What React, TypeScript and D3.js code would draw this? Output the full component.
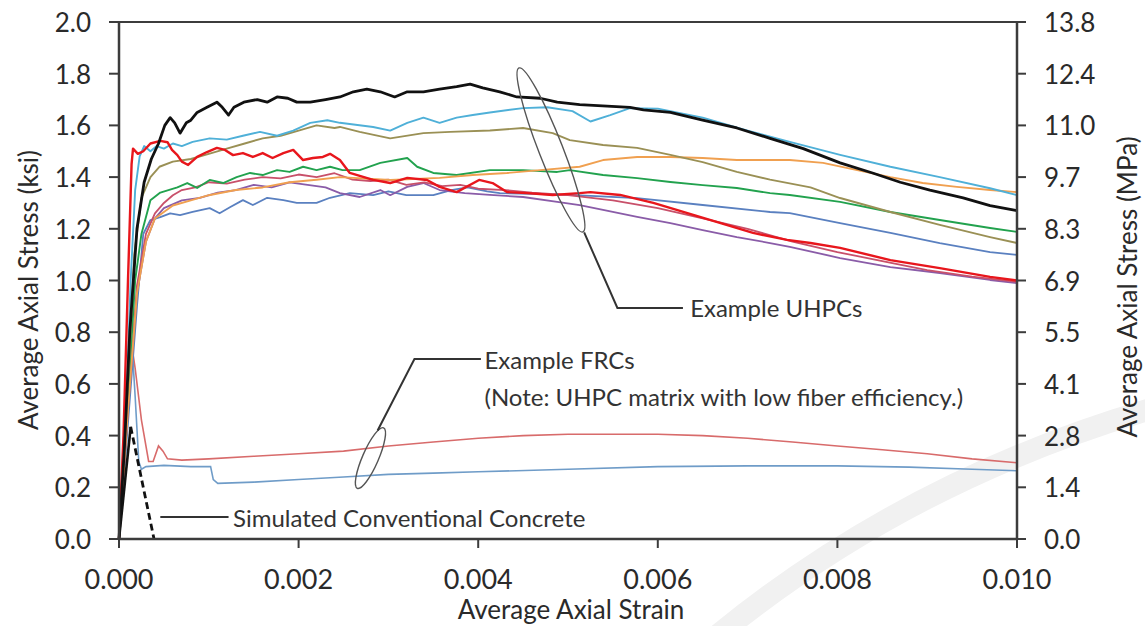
import React from "react";
import * as d3 from "d3";

// Axial stress–strain responses; strain in in/in, stress in ksi.
type Pt = [number, number];

const blackUHPC: Pt[] = [
  [0, 0], [0.00006, 0.35], [0.00012, 0.8], [0.0002, 1.2], [0.00028, 1.38], [0.00036, 1.47],
  [0.00044, 1.53], [0.00051, 1.6], [0.00057, 1.63], [0.00062, 1.61], [0.00068, 1.57],
  [0.00075, 1.61], [0.0008, 1.62], [0.00087, 1.65], [0.00098, 1.67], [0.00109, 1.69],
  [0.00115, 1.67], [0.00122, 1.64], [0.00128, 1.67], [0.00139, 1.69], [0.00154, 1.7],
  [0.00165, 1.69], [0.00176, 1.71], [0.00188, 1.705], [0.00198, 1.69], [0.00213, 1.69],
  [0.0023, 1.7], [0.00246, 1.71], [0.00261, 1.73], [0.00276, 1.74], [0.00291, 1.73],
  [0.00307, 1.71], [0.00321, 1.73], [0.00339, 1.73], [0.00357, 1.74], [0.00376, 1.75],
  [0.00391, 1.76], [0.00405, 1.745], [0.00424, 1.73], [0.00443, 1.71], [0.00469, 1.705],
  [0.00488, 1.69], [0.00513, 1.68], [0.00569, 1.67], [0.00584, 1.66], [0.00614, 1.65],
  [0.0065, 1.62], [0.00688, 1.59], [0.00725, 1.55], [0.00762, 1.51], [0.00803, 1.455],
  [0.0084, 1.415], [0.0087, 1.38], [0.00903, 1.35], [0.0094, 1.32], [0.0097, 1.29], [0.01, 1.27],
];

const cyanUHPC: Pt[] = [
  [0, 0], [0.00008, 0.5], [0.00013, 1.0], [0.00018, 1.35], [0.00023, 1.48], [0.00028, 1.52],
  [0.00035, 1.5], [0.00042, 1.52], [0.0005, 1.51], [0.0006, 1.53], [0.0007, 1.52],
  [0.00082, 1.536], [0.00101, 1.55], [0.0012, 1.545], [0.00138, 1.56], [0.00157, 1.575],
  [0.00176, 1.56], [0.00194, 1.58], [0.00213, 1.61], [0.00232, 1.62], [0.00246, 1.61],
  [0.00283, 1.594], [0.00302, 1.58], [0.00321, 1.61], [0.00339, 1.63], [0.00357, 1.61],
  [0.00376, 1.63], [0.00394, 1.64], [0.00413, 1.65], [0.0045, 1.667], [0.00477, 1.67],
  [0.00505, 1.655], [0.00525, 1.615], [0.00547, 1.64], [0.00569, 1.667], [0.006, 1.665],
  [0.0065, 1.63], [0.007, 1.58], [0.00747, 1.536], [0.00803, 1.486], [0.00859, 1.44],
  [0.00914, 1.4], [0.0097, 1.357], [0.01, 1.33],
];

const oliveUHPC: Pt[] = [
  [0, 0], [0.0001, 0.6], [0.00017, 1.1], [0.00025, 1.32], [0.00035, 1.4], [0.00045, 1.44],
  [0.0006, 1.46], [0.0008, 1.47], [0.001, 1.49], [0.0012, 1.51], [0.0014, 1.53],
  [0.0016, 1.55], [0.0018, 1.56], [0.002, 1.58], [0.0022, 1.6], [0.0024, 1.59],
  [0.00246, 1.594], [0.00268, 1.575], [0.00302, 1.55], [0.00339, 1.57], [0.00369, 1.575],
  [0.00413, 1.58], [0.0045, 1.59], [0.00483, 1.57], [0.00502, 1.543], [0.00539, 1.524],
  [0.00577, 1.513], [0.00614, 1.486], [0.0065, 1.458], [0.00688, 1.42], [0.00725, 1.39],
  [0.0077, 1.36], [0.00803, 1.319], [0.00859, 1.265], [0.00914, 1.215], [0.0097, 1.168],
  [0.01, 1.145],
];

const orangeUHPC: Pt[] = [
  [0, 0], [0.0001, 0.5], [0.0002, 0.95], [0.0003, 1.15], [0.0004, 1.24], [0.0006, 1.29],
  [0.0008, 1.31], [0.001, 1.33], [0.0013, 1.35], [0.0016, 1.36], [0.0019, 1.38],
  [0.0022, 1.39], [0.00246, 1.4], [0.00302, 1.389], [0.00357, 1.397], [0.00394, 1.408],
  [0.00432, 1.416], [0.00469, 1.427], [0.00513, 1.44], [0.00539, 1.466], [0.00577, 1.478],
  [0.00614, 1.478], [0.0065, 1.474], [0.00688, 1.466], [0.00747, 1.466], [0.00784, 1.455],
  [0.00822, 1.427], [0.00859, 1.4], [0.00895, 1.377], [0.00933, 1.362], [0.0097, 1.35],
  [0.01, 1.342],
];

const greenUHPC: Pt[] = [
  [0, 0], [0.0001, 0.55], [0.00018, 1.0], [0.00025, 1.18], [0.00035, 1.31], [0.00046, 1.34],
  [0.00065, 1.36], [0.00076, 1.377], [0.00087, 1.358], [0.00101, 1.389], [0.00116, 1.377],
  [0.00131, 1.4], [0.00146, 1.416], [0.0016, 1.408], [0.00176, 1.427], [0.0019, 1.42],
  [0.00205, 1.44], [0.0022, 1.427], [0.00235, 1.44], [0.00249, 1.427], [0.00268, 1.427],
  [0.00291, 1.455], [0.00321, 1.474], [0.00332, 1.44], [0.0035, 1.416], [0.00376, 1.408],
  [0.00413, 1.427], [0.0045, 1.427], [0.00488, 1.42], [0.00502, 1.427], [0.00539, 1.408],
  [0.00577, 1.396], [0.00614, 1.381], [0.0065, 1.369], [0.00688, 1.358], [0.00725, 1.338],
  [0.00747, 1.331], [0.00803, 1.304], [0.00859, 1.265], [0.00914, 1.234], [0.0097, 1.203],
  [0.01, 1.188],
];

const blueUHPC: Pt[] = [
  [0, 0], [0.0001, 0.45], [0.0002, 0.9], [0.00027, 1.18], [0.00035, 1.234], [0.00046, 1.245],
  [0.00057, 1.26], [0.00068, 1.253], [0.00082, 1.265], [0.00101, 1.28], [0.00112, 1.26],
  [0.00124, 1.284], [0.00138, 1.311], [0.00149, 1.292], [0.00165, 1.32], [0.00183, 1.311],
  [0.00198, 1.3], [0.0022, 1.3], [0.00235, 1.32], [0.00257, 1.338], [0.00283, 1.33],
  [0.003, 1.345], [0.0032, 1.33], [0.0035, 1.33], [0.0037, 1.35], [0.00388, 1.36],
  [0.0041, 1.345], [0.00424, 1.338], [0.0046, 1.335], [0.00502, 1.331], [0.00577, 1.319],
  [0.0065, 1.292], [0.00725, 1.265], [0.00747, 1.261], [0.00803, 1.222], [0.00859, 1.184],
  [0.00914, 1.145], [0.0097, 1.11], [0.01, 1.099],
];

const purpleUHPC: Pt[] = [
  [0, 0], [0.0001, 0.5], [0.0002, 0.95], [0.0003, 1.15], [0.0004, 1.24], [0.0005, 1.28],
  [0.0007, 1.31], [0.0009, 1.32], [0.0011, 1.34], [0.0013, 1.35], [0.0015, 1.37],
  [0.0017, 1.36], [0.0019, 1.38], [0.0021, 1.37], [0.0023, 1.36], [0.00246, 1.338],
  [0.00268, 1.323], [0.00291, 1.35], [0.00302, 1.33], [0.00321, 1.362], [0.00339, 1.377],
  [0.00357, 1.35], [0.00385, 1.338], [0.00413, 1.331], [0.0045, 1.323], [0.00488, 1.304],
  [0.00513, 1.292], [0.00539, 1.273], [0.00577, 1.246], [0.00614, 1.222], [0.0065, 1.195],
  [0.00688, 1.168], [0.00725, 1.145], [0.00747, 1.13], [0.00803, 1.087], [0.00859, 1.052],
  [0.00914, 1.029], [0.0097, 1.002], [0.01, 0.99],
];

const roseUHPC: Pt[] = [
  [0, 0], [0.0001, 0.5], [0.0002, 0.98], [0.0003, 1.18], [0.0004, 1.26], [0.0005, 1.3],
  [0.0006, 1.33], [0.0007, 1.35], [0.00085, 1.36], [0.001, 1.38], [0.0012, 1.375],
  [0.0014, 1.39], [0.0016, 1.4], [0.0018, 1.395], [0.002, 1.41], [0.0022, 1.4],
  [0.0024, 1.415], [0.0026, 1.39], [0.0028, 1.385], [0.003, 1.39], [0.0032, 1.37],
  [0.0034, 1.38], [0.0036, 1.365], [0.0038, 1.37], [0.004, 1.355], [0.0043, 1.35],
  [0.0046, 1.34], [0.005, 1.33], [0.0055, 1.31], [0.006, 1.28], [0.0065, 1.24], [0.007, 1.2],
  [0.0075, 1.15], [0.008, 1.11], [0.0085, 1.075], [0.009, 1.04], [0.0095, 1.015], [0.01, 0.995],
];

const redUHPC: Pt[] = [
  [0, 0], [0.00005, 0.4], [0.0001, 1.0], [0.00014, 1.45], [0.000156, 1.51], [0.00021, 1.49],
  [0.00027, 1.5], [0.00035, 1.53], [0.00046, 1.54], [0.00054, 1.535], [0.00059, 1.505],
  [0.00065, 1.485], [0.0007, 1.46], [0.00077, 1.447], [0.00087, 1.478], [0.00098, 1.497],
  [0.00109, 1.513], [0.00118, 1.505], [0.00127, 1.485], [0.00138, 1.493], [0.00149, 1.478],
  [0.0016, 1.493], [0.00171, 1.474], [0.00183, 1.493], [0.00194, 1.505], [0.00205, 1.466],
  [0.00216, 1.474], [0.00227, 1.478], [0.00235, 1.49], [0.00246, 1.466], [0.00257, 1.416],
  [0.00283, 1.389], [0.00302, 1.377], [0.00321, 1.397], [0.00343, 1.389], [0.00357, 1.362],
  [0.00376, 1.342], [0.00401, 1.389], [0.00416, 1.377], [0.00432, 1.342], [0.00454, 1.338],
  [0.00483, 1.331], [0.00513, 1.338], [0.00525, 1.342], [0.00558, 1.331], [0.00595, 1.3],
  [0.00633, 1.261], [0.0067, 1.222], [0.00706, 1.184], [0.00744, 1.157], [0.0077, 1.145],
  [0.00803, 1.126], [0.00859, 1.079], [0.00914, 1.048], [0.0097, 1.014], [0.01, 1.0],
];

const redFRC: Pt[] = [
  [0, 0], [0.00006, 0.45], [0.00012, 0.8], [0.00018, 0.66], [0.00025, 0.46], [0.00033, 0.3],
  [0.00038, 0.3], [0.00044, 0.36], [0.00049, 0.34], [0.00054, 0.31], [0.0007, 0.305],
  [0.001, 0.31], [0.0015, 0.32], [0.002, 0.33], [0.0025, 0.34], [0.003, 0.36], [0.0035, 0.375],
  [0.004, 0.39], [0.0045, 0.4], [0.005, 0.405], [0.0055, 0.405], [0.006, 0.405], [0.0065, 0.4],
  [0.007, 0.39], [0.0075, 0.375], [0.008, 0.36], [0.0085, 0.345], [0.009, 0.33], [0.0095, 0.31],
  [0.01, 0.295],
];

const blueFRC: Pt[] = [
  [0, 0], [0.00008, 0.45], [0.00014, 0.78], [0.00018, 0.55], [0.00022, 0.3], [0.00025, 0.27],
  [0.0003, 0.28], [0.0005, 0.285], [0.0008, 0.28], [0.00102, 0.28], [0.00105, 0.23],
  [0.0011, 0.215], [0.0015, 0.22], [0.002, 0.23], [0.0025, 0.24], [0.003, 0.25],
  [0.0035, 0.255], [0.004, 0.26], [0.005, 0.27], [0.006, 0.28], [0.007, 0.283], [0.008, 0.283],
  [0.0088, 0.278], [0.0095, 0.27], [0.01, 0.264],
];

// Simulated conventional concrete: ascending branch, then softening branch (dashed)
const conventionalRise: Pt[] = [[0, 0], [0.00013, 0.434]];
const conventionalSoftening: Pt[] = [[0.00013, 0.434], [0.00039, 0.0]];

const xTicks = [0, 0.002, 0.004, 0.006, 0.008, 0.01];
const yTicks = [0, 0.2, 0.4, 0.6, 0.8, 1.0, 1.2, 1.4, 1.6, 1.8, 2.0];
const mpaTickLabels = ["0.0", "1.4", "2.8", "4.1", "5.5", "6.9", "8.3", "9.7", "11.0", "12.4", "13.8"];

const uhpcSeries = [
  { name: "blue", data: blueUHPC, color: "#5a80c0", width: 1.8 },
  { name: "purple", data: purpleUHPC, color: "#8a5ca8", width: 1.8 },
  { name: "rose", data: roseUHPC, color: "#c8506a", width: 1.8 },
  { name: "green", data: greenUHPC, color: "#22a24e", width: 1.9 },
  { name: "orange", data: orangeUHPC, color: "#f0a050", width: 1.9 },
  { name: "olive", data: oliveUHPC, color: "#9a9055", width: 1.9 },
  { name: "cyan", data: cyanUHPC, color: "#4fb0d8", width: 1.9 },
  { name: "red", data: redUHPC, color: "#e8161c", width: 2.4 },
  { name: "black", data: blackUHPC, color: "#111111", width: 2.8 },
];

const frcSeries = [
  { name: "frcRed", data: redFRC, color: "#d86b6b", width: 1.6 },
  { name: "frcBlue", data: blueFRC, color: "#6f9cc8", width: 1.6 },
];

const FONT = "Lato, 'Open Sans', sans-serif";
const AXIS = "#3c3c3c";

export default function App() {
  const x = d3.scaleLinear().domain([0, 0.01]).range([119, 1017]);
  const y = d3.scaleLinear().domain([0, 2]).range([539, 22]);
  const line = d3
    .line<Pt>()
    .x((d) => x(d[0]))
    .y((d) => y(d[1]));

  const [x0, x1] = x.range();
  const [yb, yt] = y.range();

  // Annotation anchors in data space
  const uhpcC = [x(0.00481), y(1.505)];
  const frcC = [x(0.0028), y(0.313)];

  return (
    <svg
      width={1145}
      height={626}
      viewBox="0 0 1145 626"
      style={{ position: "absolute", left: 0, top: 0, background: "#fff" }}
      fontFamily={FONT}
    >
      <rect width={1145} height={626} fill="#fff" />
      {/* faint background swoosh */}
      <path
        d="M 700 650 Q 900 480 1165 405"
        fill="none"
        stroke="#f1f1f1"
        strokeWidth={22}
      />

      {/* FRC curves */}
      {frcSeries.map((s) => (
        <path key={s.name} d={line(s.data) ?? ""} fill="none" stroke={s.color} strokeWidth={s.width} />
      ))}

      {/* UHPC curves */}
      {uhpcSeries.map((s) => (
        <path
          key={s.name}
          d={line(s.data) ?? ""}
          fill="none"
          stroke={s.color}
          strokeWidth={s.width}
          strokeLinejoin="round"
        />
      ))}

      {/* Conventional concrete */}
      <path d={line(conventionalRise) ?? ""} fill="none" stroke="#111" strokeWidth={2.6} />
      <path
        d={line(conventionalSoftening) ?? ""}
        fill="none"
        stroke="#111"
        strokeWidth={2.8}
        strokeDasharray="7,4"
      />

      {/* Frame */}
      <line x1={x0} x2={x1} y1={yt} y2={yt} stroke={AXIS} strokeWidth={2} />
      <line x1={x0} x2={x0} y1={yt} y2={yb} stroke={AXIS} strokeWidth={2.5} />
      <line x1={x1} x2={x1} y1={yt} y2={yb} stroke={AXIS} strokeWidth={2.5} />
      <line x1={x0} x2={x1} y1={yb} y2={yb} stroke={AXIS} strokeWidth={2.5} />

      {/* Left axis */}
      {yTicks.map((t) => (
        <g key={"l" + t}>
          <line x1={x0 - 10} x2={x0} y1={y(t)} y2={y(t)} stroke={AXIS} strokeWidth={2} />
          <text
            x={91}
            y={y(t)}
            textAnchor="end"
            dominantBaseline="central"
            fontSize={26}
            fill="#2a2a2a"
          >
            {t.toFixed(1)}
          </text>
        </g>
      ))}

      {/* Right axis (MPa) */}
      {yTicks.map((t, i) => (
        <g key={"r" + t}>
          <line x1={x1} x2={x1 + 9} y1={y(t)} y2={y(t)} stroke={AXIS} strokeWidth={2} />
          <text
            x={1044}
            y={y(t)}
            textAnchor="start"
            dominantBaseline="central"
            fontSize={26}
            fill="#2a2a2a"
          >
            {mpaTickLabels[i]}
          </text>
        </g>
      ))}

      {/* Bottom axis */}
      {xTicks.map((t) => (
        <g key={"b" + t}>
          <line x1={x(t)} x2={x(t)} y1={yb} y2={yb + 9} stroke={AXIS} strokeWidth={2} />
          <text
            x={x(t)}
            y={578}
            textAnchor="middle"
            dominantBaseline="central"
            fontSize={27}
            fill="#2a2a2a"
          >
            {t.toFixed(3)}
          </text>
        </g>
      ))}

      {/* Axis titles */}
      <text x={571} y={609} textAnchor="middle" dominantBaseline="central" fontSize={26} fill="#2a2a2a">
        Average Axial Strain
      </text>
      <text
        transform={`translate(28,290) rotate(-90)`}
        textAnchor="middle"
        dominantBaseline="central"
        fontSize={26}
        fill="#2a2a2a"
      >
        Average Axial Stress (ksi)
      </text>
      <text
        transform={`translate(1127,287) rotate(-90)`}
        textAnchor="middle"
        dominantBaseline="central"
        fontSize={26}
        fill="#2a2a2a"
      >
        Average Axial Stress (MPa)
      </text>

      {/* UHPC annotation */}
      <ellipse
        cx={uhpcC[0]}
        cy={uhpcC[1]}
        rx={88}
        ry={12}
        transform={`rotate(68.7 ${uhpcC[0]} ${uhpcC[1]})`}
        fill="none"
        stroke="#555"
        strokeWidth={1.4}
      />
      <polyline
        points={`${x(0.00518)},${y(1.186)} ${x(0.00555)},${y(0.894)} ${x(0.00628)},${y(0.894)}`}
        fill="none"
        stroke="#333"
        strokeWidth={2}
      />
      <text x={x(0.00636)} y={y(0.894)} dominantBaseline="central" fontSize={24} fill="#333">
        Example UHPCs
      </text>

      {/* FRC annotation */}
      <ellipse
        cx={frcC[0]}
        cy={frcC[1]}
        rx={33}
        ry={8}
        transform={`rotate(-66.5 ${frcC[0]} ${frcC[1]})`}
        fill="none"
        stroke="#555"
        strokeWidth={1.4}
      />
      <polyline
        points={`${x(0.00288)},${y(0.42)} ${x(0.00329)},${y(0.696)} ${x(0.00403)},${y(0.696)}`}
        fill="none"
        stroke="#333"
        strokeWidth={2}
      />
      <text x={x(0.00407)} y={y(0.694)} dominantBaseline="central" fontSize={24} fill="#333">
        Example FRCs
      </text>
      <text x={x(0.00407)} y={y(0.552)} dominantBaseline="central" fontSize={24} fill="#333">
        (Note: UHPC matrix with low fiber efficiency.)
      </text>

      {/* Conventional concrete annotation */}
      <line x1={x(0.00046)} x2={x(0.00122)} y1={y(0.085)} y2={y(0.085)} stroke="#333" strokeWidth={2} />
      <text x={x(0.00127)} y={y(0.085)} dominantBaseline="central" fontSize={24} fill="#333">
        Simulated Conventional Concrete
      </text>
    </svg>
  );
}
